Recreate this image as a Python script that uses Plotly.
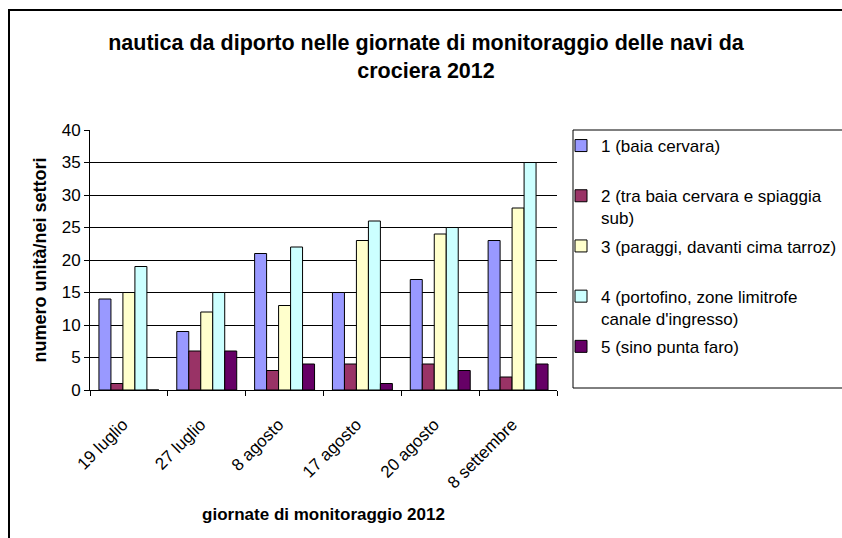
import plotly.graph_objects as go

categories = ["19 luglio", "27 luglio", "8 agosto", "17 agosto", "20 agosto", "8 settembre"]
s1 = [14, 9, 21, 15, 17, 23]
s2 = [1, 6, 3, 4, 4, 2]
s3 = [15, 12, 13, 23, 24, 28]
s4 = [19, 15, 22, 26, 25, 35]
s5 = [0, 6, 4, 1, 3, 4]
series_names = [
    "1 (baia cervara)<br> ",
    "2 (tra baia cervara e spiaggia<br>sub)",
    "3 (paraggi, davanti cima tarroz)<br> ",
    "4 (portofino, zone limitrofe<br>canale d'ingresso)",
    "5 (sino punta faro)",
]
series_colors = ["#9999FF", "#993366", "#FFFFCC", "#CCFFFF", "#660066"]
title_text = "nautica da diporto nelle giornate di monitoraggio delle navi da<br>crociera 2012"
x_title = "giornate di monitoraggio 2012"
y_title = "numero unità/nei settori"

FONT = "Liberation Sans, Arial, sans-serif"
W, H = 842, 538
L, R, T, B = 90, 285, 130, 148
pw = W - L - R
ph = H - T - B

def px_x(p):
    return (p - L) / pw

def px_y(p):
    return (H - B - p) / ph

fig = go.Figure()
for name, vals, col in zip(series_names, [s1, s2, s3, s4, s5], series_colors):
    fig.add_trace(go.Bar(
        x=categories, y=vals, name=name, legendgroup=name,
        marker=dict(color=col, line=dict(color="#000000", width=1)),
    ))

fig.update_layout(
    width=W, height=H,
    margin=dict(l=L, r=R, t=T, b=B, autoexpand=False),
    paper_bgcolor="white", plot_bgcolor="white",
    font=dict(family=FONT, color="#000000", size=17),
    title=dict(text="<b>" + title_text + "</b>", x=426 / W, xanchor="center",
               y=1 - 50 / H, yanchor="top", font=dict(size=21.5, family=FONT)),
    barmode="group", bargap=0.23, bargroupgap=0,
    showlegend=True,
    legend=dict(
        x=px_x(561), xanchor="left", y=px_y(128), yanchor="top",
        font=dict(size=17, family=FONT), valign="top",
        traceorder="grouped", tracegroupgap=3,
        bgcolor="rgba(0,0,0,0)", borderwidth=0,
    ),
    xaxis=dict(
        showline=True, linecolor="#000000", linewidth=1,
        ticks="outside", ticklen=5, tickcolor="#000000", tickson="boundaries",
        tickangle=-45, tickfont=dict(size=17, family=FONT),
        ticklabelstandoff=17, ticklabelshift=-6,
        showgrid=False,
        title=dict(text="<b>" + x_title + "</b>", standoff=16, font=dict(size=17, family=FONT)),
    ),
    yaxis=dict(
        range=[0, 40], dtick=5, showline=True, linecolor="#000000", linewidth=1,
        ticks="outside", ticklen=5, tickcolor="#000000",
        showgrid=True, gridcolor="#000000", gridwidth=1,
        tickfont=dict(size=17, family=FONT),
        title=dict(text="<b>" + y_title + "</b>", standoff=10, font=dict(size=18, family=FONT)),
        zeroline=False,
    ),
    shapes=[
        dict(type="rect", xref="paper", yref="paper",
             x0=px_x(9), x1=px_x(860), y0=px_y(560), y1=px_y(10),
             line=dict(color="#000000", width=2), fillcolor="rgba(0,0,0,0)", layer="below"),
        dict(type="rect", xref="paper", yref="paper",
             x0=px_x(573), x1=px_x(860), y0=px_y(388), y1=px_y(130),
             line=dict(color="#000000", width=1), fillcolor="rgba(0,0,0,0)", layer="below"),
    ],
)

fig.write_html("out.html")
